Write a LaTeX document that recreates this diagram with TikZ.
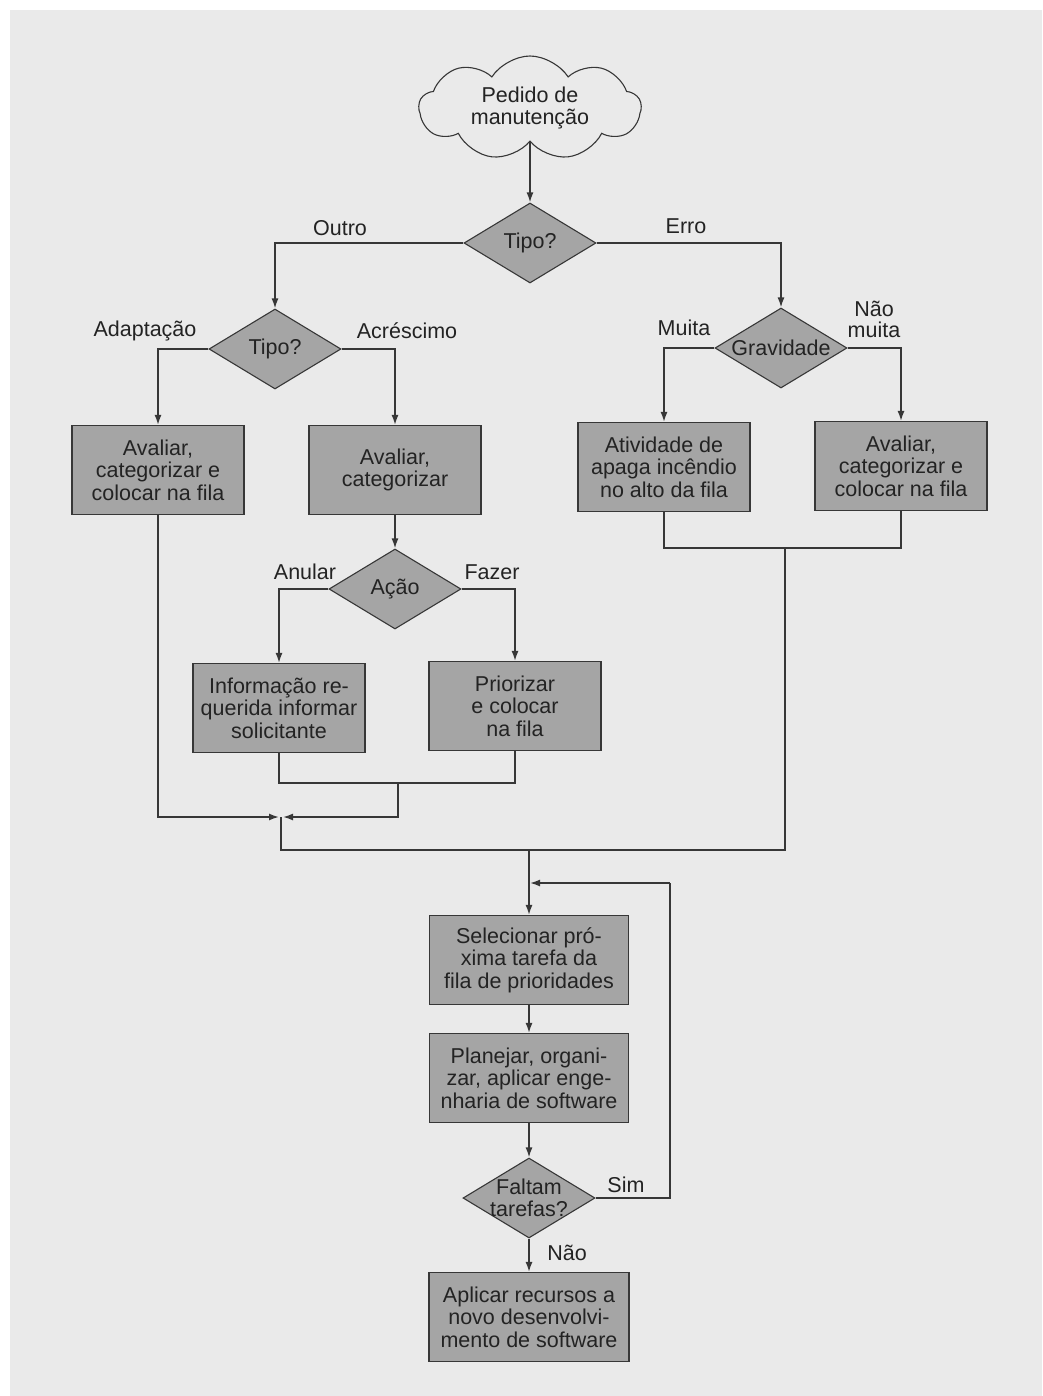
\documentclass[tikz,border=0pt]{standalone}
\usepackage{fontspec}
\setmainfont{Liberation Sans}
\usetikzlibrary{shapes.geometric,shapes.symbols,arrows.meta}
\definecolor{pagebg}{RGB}{234,234,234}
\definecolor{boxgray}{RGB}{165,165,165}
\definecolor{linecol}{RGB}{55,55,55}
\definecolor{inkcol}{RGB}{35,35,35}
\newcommand{\chartfont}{\fontsize{21.5}{22.5}\selectfont}
\begin{document}
\begin{tikzpicture}[x=1pt,y=-1pt,
  every node/.style={text=inkcol, font=\chartfont},
  proc/.style={draw=linecol, line width=1.1pt, fill=boxgray, align=center,
    inner sep=0pt, minimum width=172pt, minimum height=89pt},
  wideproc/.style={proc, minimum width=199pt},
  decision/.style={diamond, draw=linecol, line width=1.1pt, fill=boxgray,
    align=center, inner sep=0pt, shape aspect=1.65,
    minimum width=132pt, minimum height=80pt},
  flow/.style={draw=linecol, line width=1.6pt},
  arrow/.style={flow, -{Latex[length=10pt,width=7pt]}},
  lbl/.style={inner sep=0pt, align=center}
]
% page
\useasboundingbox (0,0) rectangle (1042,1396);
\fill[white] (0,0) rectangle (1042,1396);
\fill[pagebg] (10,10) rectangle (1042,1396);

% request cloud
\node[cloud, cloud puffs=9, cloud puff arc=115, aspect=2.2,
      draw=linecol, line width=1.1pt, fill=pagebg, align=center,
      minimum width=222pt, minimum height=104pt, inner sep=0pt]
      (req) at (530,108) {Pedido de\\manutenção};

% decisions
\node[decision] (tipo1) at (530,243) {Tipo?};
\node[decision] (tipo2) at (275,349) {Tipo?};
\node[decision] (grav) at (781,348) {Gravidade};
\node[decision] (acao) at (395,589) {Ação};
\node[decision, inner sep=-6pt] (falt) at (529,1198) {Faltam\\tarefas?};

% process boxes
\node[proc] (adapt) at (158,470) {Avaliar,\\categorizar e\\colocar na fila};
\node[proc] (acresc) at (395,470) {Avaliar,\\categorizar};
\node[proc] (fire) at (664,467) {Atividade de\\apaga incêndio\\no alto da fila};
\node[proc] (leve) at (901,466) {Avaliar,\\categorizar e\\colocar na fila};
\node[proc] (info) at (279,708) {Informação re-\\querida informar\\solicitante};
\node[proc] (prio) at (515,706) {Priorizar\\e colocar\\na fila};
\node[wideproc] (sel) at (529,960) {Selecionar pró-\\xima tarefa da\\fila de prioridades};
\node[wideproc] (plan) at (529,1078) {Planejar, organi-\\zar, aplicar enge-\\nharia de software};
\node[wideproc, minimum width=200pt] (apl) at (529,1317) {Aplicar recursos a\\novo desenvolvi-\\mento de software};

% junction points
\coordinate (mAcao) at (398,783);
\coordinate (jLeft) at (281,817);
\coordinate (jMid) at (529,850);
\coordinate (jRight) at (785,850);
\coordinate (mErro) at (785,548);
\coordinate (loopCorner) at (670,883);
\coordinate (loopIn) at (529,883);

% connectors
\draw[arrow] (req.south) -- (tipo1.north);
\draw[arrow] (tipo1.west) -| (tipo2.north);
\draw[arrow] (tipo1.east) -| (grav.north);
\draw[arrow] (tipo2.west) -| (adapt.north);
\draw[arrow] (tipo2.east) -| (acresc.north);
\draw[arrow] (grav.west) -| (fire.north);
\draw[arrow] (grav.east) -| (leve.north);
\draw[arrow] (acresc.south) -- (acao.north);
\draw[arrow] (acao.west) -| (info.north);
\draw[arrow] (acao.east) -| (prio.north);

\draw[flow] (info.south) |- (mAcao) -| (prio.south);
\draw[arrow] (mAcao) |- ([xshift=2pt]jLeft);
\draw[arrow] (adapt.south) |- ([xshift=-2pt]jLeft);
\draw[flow] (fire.south) |- (mErro);
\draw[flow] (leve.south) |- (mErro);
\draw[flow] (jLeft) |- (jRight) -- (mErro);
\draw[arrow] (jMid) -- (sel.north);

\draw[arrow] (sel.south) -- (plan.north);
\draw[arrow] (plan.south) -- (falt.north);
\draw[arrow] (falt.south) -- (apl.north);
\draw[flow] (falt.east) -| (loopCorner);
\draw[arrow] (loopCorner) -- ([xshift=1pt]loopIn);

% branch labels
\node[lbl] (lOutro) at (340,228) {Outro};
\node[lbl] (lErro) at (686,226) {Erro};
\node[lbl] (lAdapt) at (145,331) {Adaptação};
\node[lbl] (lAcresc) at (407,331) {Acréscimo};
\node[lbl] (lMuita) at (684,328) {Muita};
\node[lbl, font=\fontsize{21.5}{21}\selectfont] (lNaoMuita) at (874,319) {Não\\muita};
\node[lbl] (lAnular) at (305,572) {Anular};
\node[lbl] (lFazer) at (492,572) {Fazer};
\node[lbl] (lSim) at (626,1185) {Sim};
\node[lbl] (lNao) at (567,1253) {Não};
\end{tikzpicture}
\end{document}
